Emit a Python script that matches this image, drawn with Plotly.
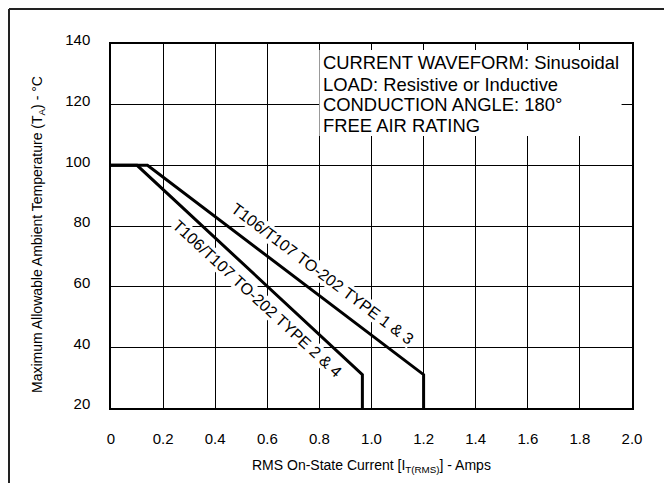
import plotly.graph_objects as go

# Data
x_type13 = [0.0, 0.14, 1.2, 1.2]
y_type13 = [100, 100, 31, 20]
x_type24 = [0.0, 0.10, 0.965, 0.965]
y_type24 = [100, 100, 31, 20]

x_tickvals = [0, 0.2, 0.4, 0.6, 0.8, 1.0, 1.2, 1.4, 1.6, 1.8, 2.0]
x_ticktext = ["0", "0.2", "0.4", "0.6", "0.8", "1.0", "1.2", "1.4", "1.6", "1.8", "2.0"]
y_tickvals = [20, 40, 60, 80, 100, 120, 140]

label_13 = "T106/T107 TO-202 TYPE 1 &amp; 3"
label_24 = "T106/T107 TO-202 TYPE 2 &amp; 4"
info_lines = [
    "CURRENT WAVEFORM: Sinusoidal",
    "LOAD: Resistive or Inductive",
    "CONDUCTION ANGLE: 180°",
    "FREE AIR RATING",
]

FONT = "Liberation Sans, Arial, sans-serif"
OFF = 8  # page body margin
# plot area in page pixels
PL, PT, PR, PB = 111, 44, 632, 408
W, H = 672 - OFF, 483 - OFF
L, T = PL - OFF, PT - OFF
R, B = W - (PR - OFF), H - (PB - OFF)
pw, ph = PR - PL, PB - PT

def px_to_paper_x(px):
    return (px - PL) / pw

def px_to_paper_y(py):
    return (PB - py) / ph

fig = go.Figure()
fig.add_trace(go.Scatter(x=x_type13, y=y_type13, mode="lines",
                         line=dict(color="black", width=3), showlegend=False,
                         hoverinfo="skip"))
fig.add_trace(go.Scatter(x=x_type24, y=y_type24, mode="lines",
                         line=dict(color="black", width=3), showlegend=False,
                         hoverinfo="skip"))

annotations = []
# curve labels
annotations.append(dict(x=0.81, y=64.3, xref="x", yref="y", text=label_13,
                        showarrow=False, textangle=37, bgcolor="white",
                        font=dict(family=FONT, size=16, color="black"), borderpad=0))
annotations.append(dict(x=0.562, y=56.2, xref="x", yref="y", text=label_24,
                        showarrow=False, textangle=42.7, bgcolor="white",
                        font=dict(family=FONT, size=16, color="black"), borderpad=0))

# info box lines
line_y_px = [62, 84, 105, 126]
for txt, ypx in zip(info_lines, line_y_px):
    annotations.append(dict(x=px_to_paper_x(321), y=px_to_paper_y(ypx), xref="paper", yref="paper",
                            text=txt, showarrow=False, xanchor="left", yanchor="middle",
                            font=dict(family=FONT, size=18.4, color="black")))

# axis titles
annotations.append(dict(x=px_to_paper_x(371), y=px_to_paper_y(466), xref="paper", yref="paper",
                        text="RMS On-State Current [I<sub>T(RMS)</sub>] - Amps",
                        showarrow=False, xanchor="center", yanchor="middle",
                        font=dict(family=FONT, size=14, color="black")))
annotations.append(dict(x=px_to_paper_x(38), y=px_to_paper_y(235), xref="paper", yref="paper",
                        text="Maximum Allowable Ambient Temperature (T<sub>A</sub>) - °C",
                        showarrow=False, xanchor="center", yanchor="middle", textangle=-90,
                        font=dict(family=FONT, size=14, color="black")))

shapes = [
    # white box behind info text
    dict(type="rect", xref="x", yref="y", x0=0.80, x1=1.96, y0=109.7, y1=138,
         fillcolor="white", line=dict(width=0), layer="above"),
    # outer frame (top and left)
    dict(type="line", xref="paper", yref="paper",
         x0=px_to_paper_x(OFF + 1), x1=px_to_paper_x(700), y0=px_to_paper_y(OFF + 1), y1=px_to_paper_y(OFF + 1),
         line=dict(color="#222", width=2)),
    dict(type="line", xref="paper", yref="paper",
         x0=px_to_paper_x(OFF + 1), x1=px_to_paper_x(OFF + 1), y0=px_to_paper_y(OFF + 1), y1=px_to_paper_y(520),
         line=dict(color="#222", width=2)),
]

fig.update_layout(
    width=W, height=H,
    margin=dict(l=L, r=R, t=T, b=B, autoexpand=False),
    paper_bgcolor="white", plot_bgcolor="white",
    font=dict(family=FONT, size=15, color="black"),
    annotations=annotations, shapes=shapes,
    showlegend=False,
)
fig.update_xaxes(range=[0, 2], tickvals=x_tickvals, ticktext=x_ticktext,
                 showgrid=True, gridcolor="black", gridwidth=1,
                 showline=True, linecolor="black", linewidth=1.5, mirror=True,
                 zeroline=False, ticks="", ticklabelstandoff=16,
                 tickfont=dict(family=FONT, size=15, color="black"))
fig.update_yaxes(range=[20, 140], tickvals=y_tickvals,
                 showgrid=True, gridcolor="black", gridwidth=1,
                 showline=True, linecolor="black", linewidth=1.5, mirror=True,
                 zeroline=False, ticks="", ticklabelstandoff=16, ticklabelshift=-4,
                 tickfont=dict(family=FONT, size=15, color="black"))

fig.write_html("out.html")
